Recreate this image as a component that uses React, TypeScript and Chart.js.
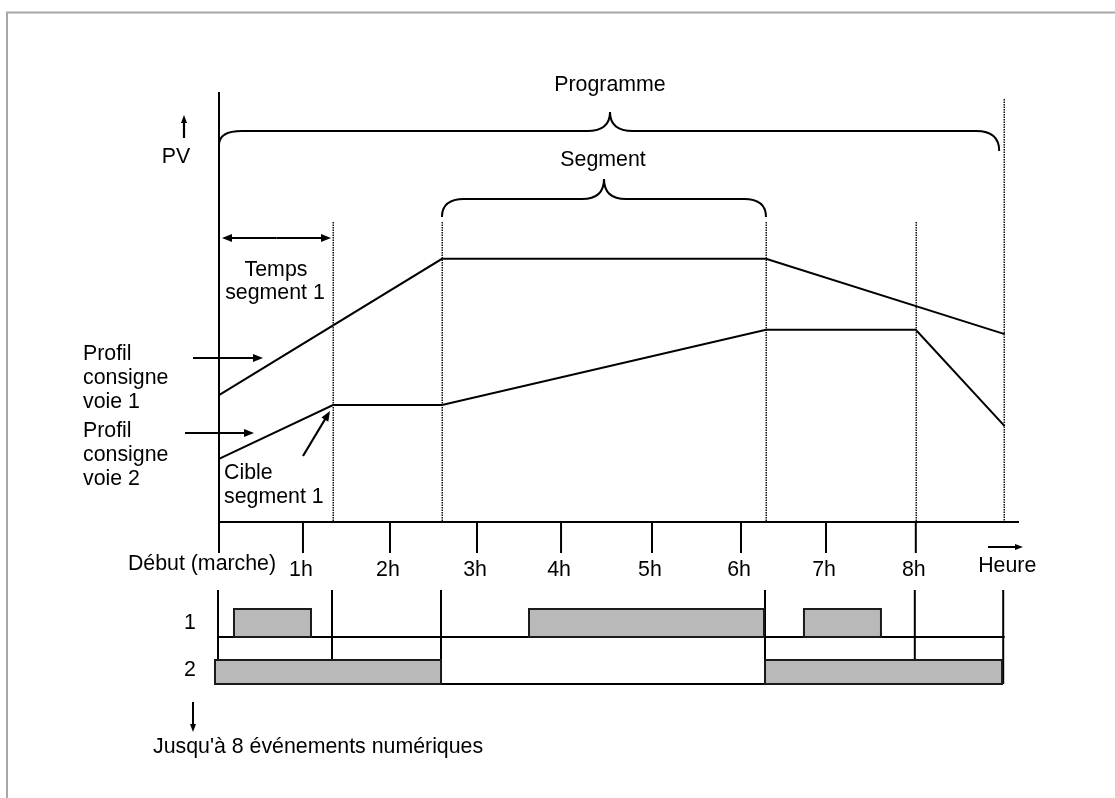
import React, { useEffect, useRef } from 'react';
import { Chart, registerables } from 'chart.js';

Chart.register(...registerables);

// ---- data (x in hours, y in PV units) ----
const TICK_HOURS = [0, 0.964, 1.963, 2.962, 3.927, 4.971, 5.993, 6.969, 8.0];
const TICK_LABELS = ['Début (marche)', '1h', '2h', '3h', '4h', '5h', '6h', '7h', '8h'];
const SEGMENT_ENDS = [1.309, 2.56, 6.28, 8.0, 9.015];

const CH1_TIME = [0, 2.56, 6.28, 9.02];
const CH1_PV = [29.5, 61.2, 61.2, 43.7];
const CH2_TIME = [0, 1.309, 2.56, 6.28, 8.0, 9.02];
const CH2_PV = [14.7, 27.2, 27.2, 44.7, 44.7, 22.3];

const EVENT1_START = [0.172, 3.559, 6.716];
const EVENT1_END = [1.056, 6.257, 7.6];
const EVENT2_START = [-0.046, 6.269];
const EVENT2_END = [2.549, 8.99];

const X_MIN = -2.5144;
const X_MAX = 10.287;
const Y_MIN = -64.19;
const Y_MAX = 121.4;

const FONT = '21.33px "Liberation Sans", Arial, sans-serif';

function arrow(ctx: CanvasRenderingContext2D, x1: number, y1: number, x2: number, y2: number, head = 8, w = 3.5) {
  const a = Math.atan2(y2 - y1, x2 - x1);
  const c = Math.cos(a), s = Math.sin(a);
  ctx.beginPath();
  ctx.moveTo(x1, y1);
  ctx.lineTo(x2 - head * c * 0.7, y2 - head * s * 0.7);
  ctx.stroke();
  ctx.beginPath();
  ctx.moveTo(x2, y2);
  ctx.lineTo(x2 - head * c + w * s, y2 - head * s - w * c);
  ctx.lineTo(x2 - head * c - w * s, y2 - head * s + w * c);
  ctx.closePath();
  ctx.fill();
}

function brace(ctx: CanvasRenderingContext2D, xL: number, xR: number, yEndL: number, yEndR: number, yLine: number, tipX: number, tipY: number, r: number) {
  ctx.beginPath();
  ctx.moveTo(xL, yEndL);
  ctx.quadraticCurveTo(xL, yLine, xL + r, yLine);
  ctx.lineTo(tipX - r, yLine);
  ctx.quadraticCurveTo(tipX, yLine, tipX, tipY);
  ctx.quadraticCurveTo(tipX, yLine, tipX + r, yLine);
  ctx.lineTo(xR - r, yLine);
  ctx.quadraticCurveTo(xR, yLine, xR, yEndR);
  ctx.stroke();
}

const overlay = {
  id: 'overlay',
  afterDatasetsDraw(chart: any) {
    const ctx: CanvasRenderingContext2D = chart.ctx;
    const xs = chart.scales.x;
    const ys = chart.scales.y;
    const X = (h: number) => xs.getPixelForValue(h);
    const Y = (v: number) => ys.getPixelForValue(v);
    const axisY = Y(0);
    const x0 = X(0);

    ctx.save();
    // frame
    ctx.strokeStyle = '#a8a8a8';
    ctx.lineWidth = 2;
    ctx.beginPath();
    ctx.moveTo(7, 798);
    ctx.lineTo(7, 12.5);
    ctx.lineTo(1115, 12.5);
    ctx.stroke();

    ctx.strokeStyle = '#000';
    ctx.fillStyle = '#000';
    ctx.lineCap = 'butt';

    // dotted segment boundaries
    ctx.lineWidth = 1.5;
    ctx.strokeStyle = '#111';
    ctx.setLineDash([1.5, 1]);
    SEGMENT_ENDS.forEach((h, i) => {
      const top = i === SEGMENT_ENDS.length - 1 ? 99 : 222;
      const xx = Math.round(X(h)) + 0.25;
      ctx.beginPath();
      ctx.moveTo(xx, top);
      ctx.lineTo(xx, axisY);
      ctx.stroke();
    });
    ctx.setLineDash([]);
    ctx.strokeStyle = '#000';

    // main axes
    ctx.lineWidth = 2;
    ctx.beginPath();
    ctx.moveTo(x0, 92);
    ctx.lineTo(x0, axisY + 31);
    ctx.moveTo(x0, axisY);
    ctx.lineTo(X(9.185), axisY);
    ctx.stroke();

    // ticks
    TICK_HOURS.forEach((h) => {
      ctx.beginPath();
      ctx.moveTo(X(h), axisY);
      ctx.lineTo(X(h), axisY + 31);
      ctx.stroke();
    });

    // tick labels
    ctx.font = FONT;
    ctx.textBaseline = 'middle';
    ctx.textAlign = 'center';
    TICK_LABELS.forEach((t, i) => {
      if (i === 0) {
        ctx.fillText(t, X(TICK_HOURS[i]) - 17, axisY + 42);
      } else {
        ctx.fillText(t, X(TICK_HOURS[i]) - 2, axisY + 48);
      }
    });
    ctx.fillText('Heure', X(9.05), axisY + 44);
    ctx.lineWidth = 2;
    arrow(ctx, 988, axisY + 25, 1023, axisY + 25, 8, 3);

    // braces
    ctx.lineWidth = 2;
    brace(ctx, x0, X(SEGMENT_ENDS[4]) - 5, 145, 151, 131, 610, 112, 23);
    brace(ctx, X(SEGMENT_ENDS[1]), X(SEGMENT_ENDS[2]), 217, 217, 199, 604, 179, 22);

    // texts
    ctx.textAlign = 'center';
    ctx.fillText('Programme', 610, 85);
    ctx.fillText('Segment', 603, 160);
    ctx.fillText('PV', 176, 157);
    ctx.fillText('Temps', 276, 270);
    ctx.fillText('segment 1', 275, 293);

    ctx.textAlign = 'left';
    ['Profil', 'consigne', 'voie 1'].forEach((t, i) => ctx.fillText(t, 83, 354 + i * 24));
    ['Profil', 'consigne', 'voie 2'].forEach((t, i) => ctx.fillText(t, 83, 431 + i * 24));
    ['Cible', 'segment 1'].forEach((t, i) => ctx.fillText(t, 224, 473 + i * 24));

    // arrows
    ctx.lineWidth = 2.2;
    arrow(ctx, 184, 138, 184, 115, 8, 3);
    arrow(ctx, 193, 358, 263, 358, 10, 4);
    arrow(ctx, 185, 433, 254, 433, 10, 4);
    arrow(ctx, 303, 456, 330, 411, 10, 4);
    // double arrow (segment 1 time)
    const xa = x0 + 3, xb = X(SEGMENT_ENDS[0]) - 2;
    arrow(ctx, (xa + xb) / 2, 238, xb, 238, 10, 4);
    arrow(ctx, (xa + xb) / 2, 238, xa, 238, 10, 4);

    // events panel
    const evTop = axisY + 68;
    const row1Base = axisY + 115;
    const row1Top = axisY + 87;
    const row2Top = axisY + 138;
    const row2Bot = axisY + 162;

    ctx.lineWidth = 2;
    const panelLines = [0, ...SEGMENT_ENDS];
    panelLines.forEach((h, i) => {
      const long = i === 2 || i === 3 || i === 5;
      ctx.beginPath();
      ctx.moveTo(X(h) - 1, evTop);
      ctx.lineTo(X(h) - 1, long ? row2Bot : row2Top);
      ctx.stroke();
    });

    ctx.beginPath();
    ctx.moveTo(x0, row1Base);
    ctx.lineTo(X(9.02), row1Base);
    ctx.moveTo(X(EVENT2_START[0]), row2Bot);
    ctx.lineTo(X(EVENT2_END[1]), row2Bot);
    ctx.stroke();

    ctx.fillStyle = '#b9b9b9';
    ctx.strokeStyle = '#1a1a1a';
    ctx.lineWidth = 2;
    EVENT1_START.forEach((s, i) => {
      const x1 = X(s), x2 = X(EVENT1_END[i]);
      ctx.fillRect(x1, row1Top, x2 - x1, row1Base - row1Top);
      ctx.strokeRect(x1, row1Top, x2 - x1, row1Base - row1Top);
    });
    EVENT2_START.forEach((s, i) => {
      const x1 = X(s), x2 = X(EVENT2_END[i]);
      ctx.fillRect(x1, row2Top, x2 - x1, row2Bot - row2Top);
      ctx.strokeRect(x1, row2Top, x2 - x1, row2Bot - row2Top);
    });

    ctx.fillStyle = '#000';
    ctx.strokeStyle = '#000';
    ctx.textAlign = 'center';
    ctx.fillText('1', 190, axisY + 101);
    ctx.fillText('2', 190, axisY + 148);
    ctx.lineWidth = 2;
    arrow(ctx, 193, axisY + 180, 193, axisY + 210, 8, 3);
    ctx.textAlign = 'left';
    ctx.fillText("Jusqu'à 8 événements numériques", 153, axisY + 225);

    ctx.restore();
  },
};

export default function App() {
  const ref = useRef<HTMLCanvasElement | null>(null);
  useEffect(() => {
    if (!ref.current) return;
    const chart = new Chart(ref.current, {
      type: 'line',
      data: {
        datasets: [
          {
            label: 'Profil consigne voie 1',
            data: CH1_TIME.map((t, i) => ({ x: t, y: CH1_PV[i] })),
            borderColor: '#000',
            borderWidth: 2,
            pointRadius: 0,
            tension: 0,
            fill: false,
          },
          {
            label: 'Profil consigne voie 2',
            data: CH2_TIME.map((t, i) => ({ x: t, y: CH2_PV[i] })),
            borderColor: '#000',
            borderWidth: 2,
            pointRadius: 0,
            tension: 0,
            fill: false,
          },
        ],
      },
      options: {
        animation: false,
        responsive: false,
        layout: { padding: 0 },
        scales: {
          x: { type: 'linear', display: false, min: X_MIN, max: X_MAX },
          y: { type: 'linear', display: false, min: Y_MIN, max: Y_MAX },
        },
        plugins: {
          legend: { display: false },
          tooltip: { enabled: false },
        },
      },
      plugins: [overlay],
    });
    return () => chart.destroy();
  }, []);
  return (
    <div style={{ position: 'absolute', left: 0, top: 0, width: 1115, height: 798, background: '#fff' }}>
      <canvas ref={ref} width={1115} height={798} style={{ display: 'block' }} />
    </div>
  );
}
